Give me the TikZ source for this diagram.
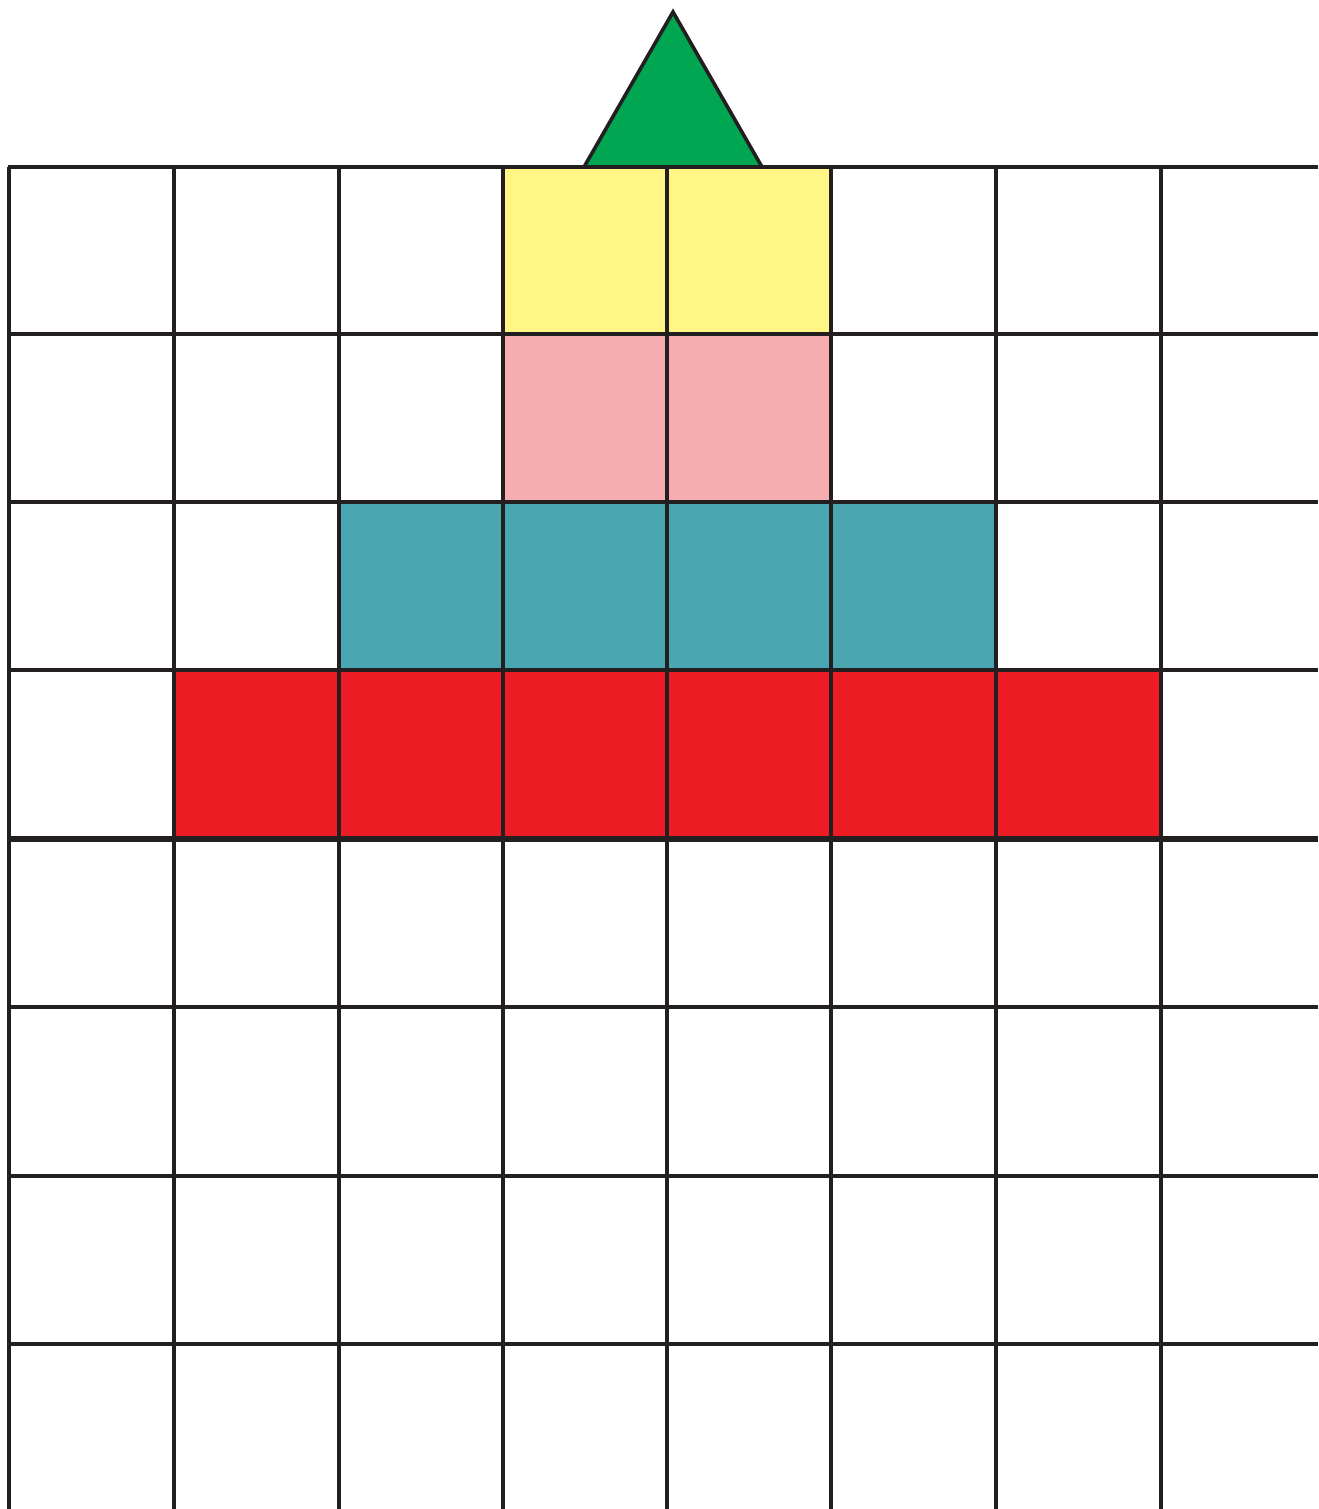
\documentclass[tikz,border=0pt]{standalone}
\definecolor{cyellow}{HTML}{FFF685}
\definecolor{cpink}{HTML}{F5ADAF}
\definecolor{cteal}{HTML}{4AA6B1}
\definecolor{cred}{HTML}{ED1C24}
\definecolor{cgreen}{HTML}{00A651}
\definecolor{cline}{HTML}{231F20}
\tikzset{gridline/.style={draw=cline,line width=1.8pt}}
\begin{document}
\begin{tikzpicture}[x=0.5pt,y=-0.5pt]
\useasboundingbox (0,0) rectangle (1318,1509);
% coloured cells
\fill[cyellow] (503,167) rectangle (831,334);
\fill[cpink] (503,334) rectangle (831,502);
\fill[cteal] (339,502) rectangle (996,670);
\fill[cred] (174,670) rectangle (1161,839);
% vertical lines
\foreach \x in {9,174,339,503,667,831,996,1161}
  \draw[gridline] (\x,167) -- (\x,1509);
% horizontal lines
\foreach \y in {167,334,502,670,1007,1176,1344}
  \draw[gridline] (8,\y) -- (1318,\y);
\draw[draw=cline,line width=3pt] (8,839) -- (1318,839);
% triangle
\draw[fill=cgreen,draw=cline,line width=1.8pt,line join=miter] (584,167) -- (673,12) -- (762,167) -- cycle;
\end{tikzpicture}
\end{document}
